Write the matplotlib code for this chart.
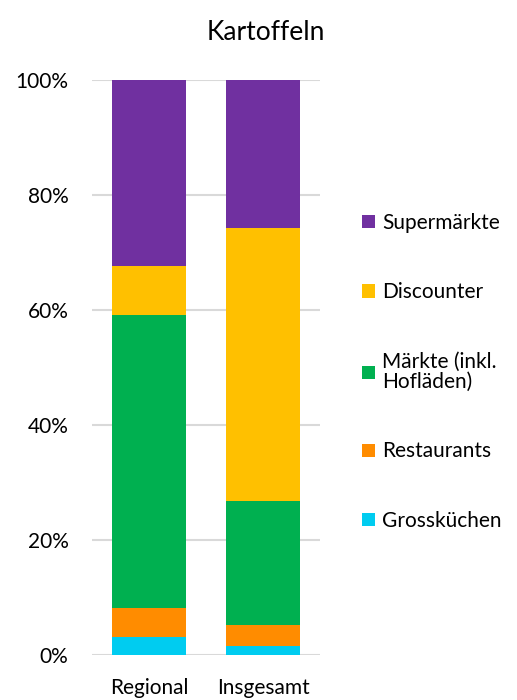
import matplotlib.pyplot as plt
from matplotlib.ticker import PercentFormatter

plt.rcParams['font.family'] = ['Lato', 'DejaVu Sans']

groups = ['Regional', 'Insgesamt']
labels = ['Grossküchen', 'Restaurants', 'Märkte (inkl.\nHofläden)', 'Discounter', 'Supermärkte']
colors = ['#00CCF0', '#FF8C00', '#00B050', '#FFC000', '#7030A0']

# percent share per segment (bottom to top)
grossk = [3.1, 1.6]
restaurants = [5.1, 3.6]
maerkte = [50.9, 21.5]
discounter = [8.6, 47.6]
supermaerkte = [32.3, 25.7]
series = [grossk, restaurants, maerkte, discounter, supermaerkte]

fig = plt.figure(figsize=(5.17, 7), dpi=100)
ax = fig.add_axes([0.178, 0.0643, 0.441, 0.8214])

bottom = [0, 0]
handles = []
for vals, lab, col in zip(series, labels, colors):
    b = ax.bar(range(len(groups)), vals, 0.65, bottom=bottom, color=col, label=lab, linewidth=0)
    handles.append(b)
    bottom = [bottom[i] + vals[i] for i in range(len(vals))]

ax.set_xlim(-0.5, 1.5)
ax.set_ylim(0, 100)
ax.set_yticks([0, 20, 40, 60, 80, 100])
ax.yaxis.set_major_formatter(PercentFormatter(decimals=0))
ax.set_xticks(range(len(groups)))
ax.set_xticklabels(groups)
ax.tick_params(length=0, labelsize=15, colors='#000000')
ax.tick_params(axis='x', pad=16.5)
ax.tick_params(axis='y', pad=17)
ax.grid(axis='y', color='#D9D9D9', linewidth=1.5)
ax.set_axisbelow(True)
for s in ax.spines.values():
    s.set_visible(False)

fig.text(0.515, 0.954, 'Kartoffeln', ha='center', va='center', fontsize=19)

leg = fig.legend(handles[::-1], labels[::-1], loc='upper left', bbox_to_anchor=(0.685, 0.708),
                 frameon=False, fontsize=15, handlelength=0.6, handleheight=0.6,
                 handletextpad=0.35, labelspacing=2.38, borderaxespad=0)
for t in leg.get_texts():
    t.set_linespacing(1.0)

plt.savefig('out.png', dpi=100)
